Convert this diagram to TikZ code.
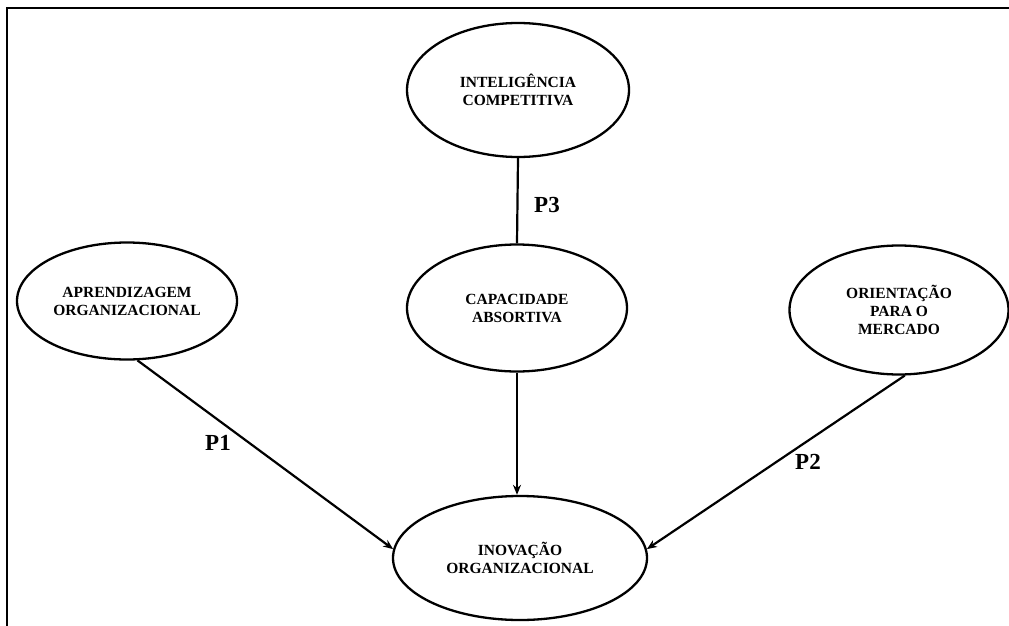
\documentclass[tikz,border=0pt]{standalone}
\usepackage{fontspec}
\setmainfont{Liberation Serif}
\usetikzlibrary{arrows.meta,shapes.geometric}

\tikzset{
  construto/.style={ellipse,draw,line width=2.3pt,inner sep=0pt,align=center,
    font=\bfseries\fontsize{15.5}{18}\selectfont},
  prop/.style={font=\bfseries\fontsize{23}{26}\selectfont},
}

\begin{document}
\begin{tikzpicture}[x=1pt,y=-1pt,line width=2.2pt,>={Stealth[length=10pt,width=8pt]}]
\useasboundingbox (0,0) rectangle (1009,626);
% frame (cut at the right and bottom)
\draw[line width=2.8pt] (7,626) -- (7,8) -- (1009,8);
% constructs
\node[construto,minimum width=222pt,minimum height=134pt] (intel) at (518,90) {INTELIGÊNCIA\\COMPETITIVA};
\node[construto,minimum width=220pt,minimum height=127pt] (cap) at (517,308) {CAPACIDADE\\ABSORTIVA};
\node[construto,minimum width=220pt,minimum height=117pt] (apr) at (127,301) {APRENDIZAGEM\\ORGANIZACIONAL};
\node[construto,minimum width=219pt,minimum height=129pt] (ori) at (899,310) {ORIENTAÇÃO\\PARA O\\MERCADO};
\node[construto,minimum width=254pt,minimum height=124pt] (inov) at (520,558) {INOVAÇÃO\\ORGANIZACIONAL};
% propositions
\draw (intel.south) -- (cap.north);
\draw[->] (cap.south) -- (cap.south |- inov.north);
\draw[->] (apr.-80) -- (inov.176);
\draw[->] (ori.-85) -- (inov.4);
% labels
\node[prop] (p3) at (547,205) {P3};
\node[prop] (p1) at (218,443) {P1};
\node[prop] (p2) at (808,462) {P2};
\end{tikzpicture}
\end{document}
